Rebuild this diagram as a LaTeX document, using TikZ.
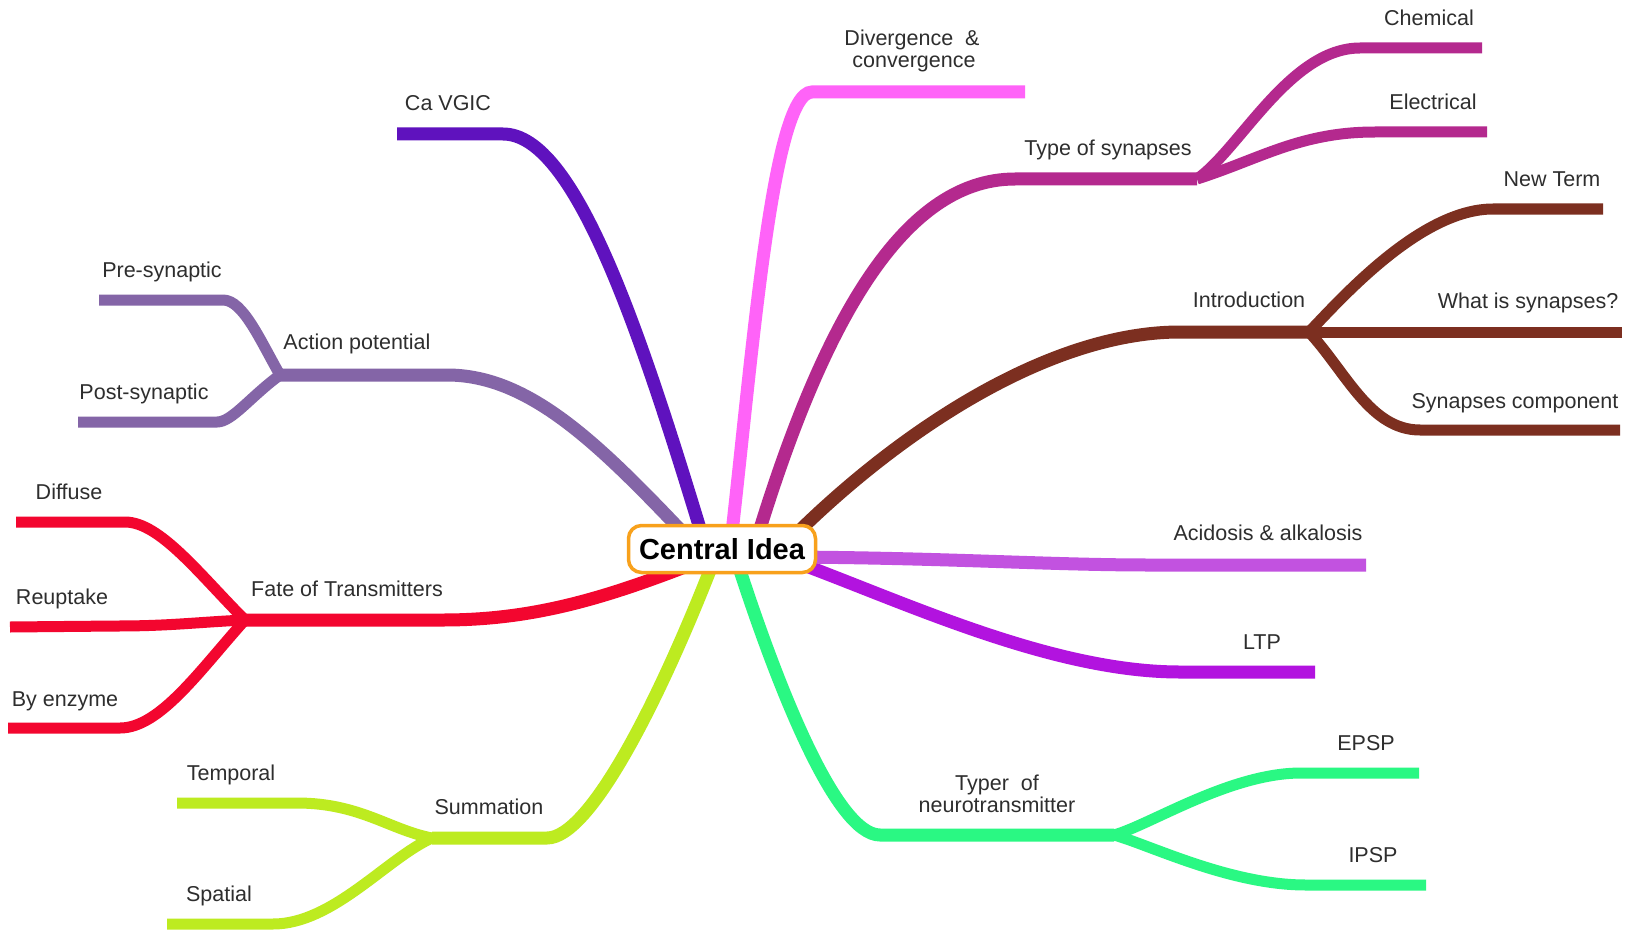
\documentclass[tikz,border=0pt]{standalone}
\usepackage{fontspec}
\setmainfont{Liberation Sans}
\definecolor{cAP}{HTML}{8465A7}
\definecolor{cFT}{HTML}{F3062F}
\definecolor{cSM}{HTML}{BDEB20}
\definecolor{cNT}{HTML}{2AF883}
\definecolor{cLT}{HTML}{B213DF}
\definecolor{cAC}{HTML}{C252E0}
\definecolor{cIN}{HTML}{7C2F20}
\definecolor{cTY}{HTML}{B4298E}
\definecolor{cDV}{HTML}{FF63F8}
\definecolor{cCA}{HTML}{5F12BE}
\definecolor{cOR}{HTML}{F8A11C}
\begin{document}
\begin{tikzpicture}[x=1pt,y=-1pt,
  lbl/.style={font=\fontsize{21.5}{24}\selectfont, text=black!82, anchor=base, inner sep=0pt, yshift=1.5pt},
  mainbr/.style={line width=13pt},
  subbr/.style={line width=11pt},
  centerbox/.style={draw=cOR, line width=3.5pt, rounded corners=13pt, fill=white,
    minimum width=187pt, minimum height=47pt, inner sep=0pt,
    font=\fontsize{29}{32}\selectfont\bfseries}
]
\fill[white] (0,0) rectangle (1632,936);
\useasboundingbox (0,0) rectangle (1632,936);

% ---------- coordinates ----------
% Action potential
\coordinate (apC) at (690,540);
\coordinate (apH) at (447,375);
\coordinate (apJ) at (280,375);
\coordinate (preE) at (223,300); \coordinate (preS) at (99,300);
\coordinate (postE) at (217,422); \coordinate (postS) at (78,422);
% Fate of transmitters
\coordinate (ftC) at (690,565);
\coordinate (ftH) at (443,620);
\coordinate (ftJ) at (245,620);
\coordinate (difE) at (125,522); \coordinate (difS) at (16,522);
\coordinate (reuE) at (117,626); \coordinate (reuS) at (10,627);
\coordinate (enzE) at (120,728); \coordinate (enzS) at (8,728);
% Summation
\coordinate (smC) at (716,555);
\coordinate (smH) at (547,838);
\coordinate (smJ) at (432,838);
\coordinate (tmE) at (297,803); \coordinate (tmS) at (177,803);
\coordinate (spE) at (273,924); \coordinate (spS) at (167,924);
% Neurotransmitter
\coordinate (ntC) at (735,555);
\coordinate (ntH) at (880,835);
\coordinate (ntJ) at (1114,835);
\coordinate (epE) at (1301,773); \coordinate (epS) at (1419,773);
\coordinate (ipE) at (1306,885); \coordinate (ipS) at (1426,885);
% LTP
\coordinate (ltC) at (790,560);
\coordinate (ltH) at (1180,672);
\coordinate (ltE) at (1315,672);
% Acidosis
\coordinate (acC) at (790,557);
\coordinate (acH) at (1150,565);
\coordinate (acE) at (1366,565);
% Introduction
\coordinate (inC) at (790,540);
\coordinate (inH) at (1180,332);
\coordinate (inJ) at (1309,332);
\coordinate (nwE) at (1493,209); \coordinate (nwS) at (1603,209);
\coordinate (whE) at (1622,332);
\coordinate (scE) at (1420,430); \coordinate (scS) at (1620,430);
% Type of synapses
\coordinate (tyC) at (755,545);
\coordinate (tyH) at (1015,179);
\coordinate (tyJ) at (1197,179);
\coordinate (chE) at (1360,48); \coordinate (chS) at (1482,48);
\coordinate (elE) at (1375,132); \coordinate (elS) at (1487,132);
% Divergence
\coordinate (dvC) at (730,550);
\coordinate (dvH) at (812,92);
\coordinate (dvE) at (1025,92);
% Ca VGIC
\coordinate (caC) at (705,545);
\coordinate (caH) at (503,134);
\coordinate (caE) at (397,134);

% ---------- branches ----------
\draw[mainbr,cAP] (apC) .. controls +(-90,-95) and +(83,0) .. (apH) -- (apJ);
\draw[subbr,cAP] (apJ) .. controls +(-20,-35) and +(20,0) .. (preE) -- (preS);
\draw[subbr,cAP] (apJ) .. controls +(-30,22) and +(15,0) .. (postE) -- (postS);

\draw[mainbr,cFT] (ftC) .. controls +(-90,35) and +(87,0) .. (ftH) -- (ftJ);
\draw[subbr,cFT] (ftJ) .. controls +(-45,-45) and +(35,0) .. (difE) -- (difS);
\draw[subbr,cFT] (ftJ) .. controls +(-45,2) and +(53,0) .. (reuE) -- (reuS);
\draw[subbr,cFT] (ftJ) .. controls +(-45,50) and +(40,0) .. (enzE) -- (enzS);

\draw[mainbr,cSM] (smC) .. controls +(-56,145) and +(43,0) .. (smH) -- (smJ);
\draw[subbr,cSM] (smJ) .. controls +(-42,-8) and +(63,0) .. (tmE) -- (tmS);
\draw[subbr,cSM] (smJ) .. controls +(-45,20) and +(60,0) .. (spE) -- (spS);

\draw[mainbr,cNT] (ntC) .. controls +(40,125) and +(-45,0) .. (ntH) -- (ntJ);
\draw[subbr,cNT] (ntJ) .. controls +(36,-10) and +(-71,0) .. (epE) -- (epS);
\draw[subbr,cNT] (ntJ) .. controls +(36,10) and +(-76,0) .. (ipE) -- (ipS);

\draw[mainbr,cLT] (ltC) .. controls +(110,40) and +(-130,0) .. (ltH) -- (ltE);

\draw[mainbr,cAC] (acC) .. controls +(160,1) and +(-100,0) .. (acH) -- (acE);

\draw[mainbr,cIN] (inC) .. controls +(110,-110) and +(-130,0) .. (inH) -- (inJ);
\draw[subbr,cIN] (inJ) .. controls +(31,-32) and +(-73,0) .. (nwE) -- (nwS);
\draw[subbr,cIN] (inJ) -- (whE);
\draw[subbr,cIN] (inJ) .. controls +(37,40) and +(-50,0) .. (scE) -- (scS);

\draw[mainbr,cTY] (tyC) .. controls +(65,-215) and +(-115,0) .. (tyH) -- (tyJ);
\draw[subbr,cTY] (tyJ) .. controls +(43,-30) and +(-70,0) .. (chE) -- (chS);
\draw[subbr,cTY] (tyJ) .. controls +(63,-20) and +(-75,0) .. (elE) -- (elS);

\draw[mainbr,cDV] (dvC) .. controls +(22,-190) and +(-40,0) .. (dvH) -- (dvE);

\draw[mainbr,cCA] (caC) .. controls +(-65,-215) and +(72,0) .. (caH) -- (caE);

% ---------- central topic ----------
\node[centerbox] (center) at (722,549) {Central Idea};

% ---------- labels ----------
\node[lbl] (tPre) at (162,279) {Pre-synaptic};
\node[lbl] (tPost) at (144,401) {Post-synaptic};
\node[lbl] (tAP) at (357,351) {Action potential};
\node[lbl] (tDif) at (69,501) {Diffuse};
\node[lbl] (tReu) at (62,606) {Reuptake};
\node[lbl] (tEnz) at (65,708) {By enzyme};
\node[lbl] (tFT) at (347,598) {Fate of Transmitters};
\node[lbl] (tTm) at (231,782) {Temporal};
\node[lbl] (tSp) at (219,903) {Spatial};
\node[lbl] (tSm) at (489,816) {Summation};
\node[lbl] (tNT1) at (997,792) {Typer~~of};
\node[lbl] (tNT2) at (997,814) {neurotransmitter};
\node[lbl] (tEP) at (1366,752) {EPSP};
\node[lbl] (tIP) at (1373,864) {IPSP};
\node[lbl] (tLT) at (1262,651) {LTP};
\node[lbl] (tAC) at (1268,542) {Acidosis \& alkalosis};
\node[lbl] (tIN) at (1249,309) {Introduction};
\node[lbl] (tNW) at (1552,188) {New Term};
\node[lbl] (tWH) at (1528,310) {What is synapses?};
\node[lbl] (tSC) at (1515,410) {Synapses component};
\node[lbl] (tTY) at (1108,157) {Type of synapses};
\node[lbl] (tCH) at (1429,27) {Chemical};
\node[lbl] (tEL) at (1433,111) {Electrical};
\node[lbl] (tDV1) at (912,47) {Divergence~~\&};
\node[lbl] (tDV2) at (914,69) {convergence};
\node[lbl] (tCA) at (448,112) {Ca VGIC};
\end{tikzpicture}
\end{document}
